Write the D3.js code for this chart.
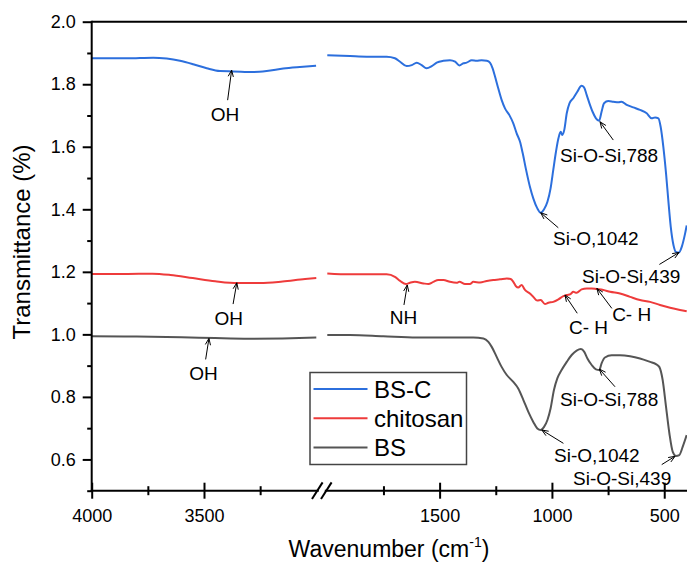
<!DOCTYPE html>
<html>
<head>
<meta charset="utf-8">
<script src="https://cdn.jsdelivr.net/npm/d3@7"></script>
<style>
  html, body { margin: 0; padding: 0; background: #fff; }
  svg { display: block; font-family: Arial, "Liberation Sans", sans-serif; }
</style>
</head>
<body>
<svg id="chart" width="687" height="566"></svg>
<script>
// ---------------- DATA ----------------
const seriesNames = ["BS-C", "chitosan", "BS"];
const seriesColors = ["#2c6fdd", "#ee3b3b", "#555555"];

// wavenumber (cm-1), transmittance — left (4000-3000) and right (2000-400) segments
const bscLeftW = [4000, 3844, 3726, 3666, 3607, 3548, 3488, 3429, 3369, 3280, 3221, 3147, 3073, 3001];
const bscLeftT = [1.883, 1.883, 1.885, 1.882, 1.875, 1.864, 1.851, 1.842, 1.841, 1.839, 1.842, 1.850, 1.855, 1.859];
const bscRightW = [2000, 1899, 1825, 1736, 1699, 1676, 1647, 1624, 1602, 1580, 1558, 1535, 1513, 1483, 1454, 1431, 1412, 1394, 1380, 1357, 1335, 1313, 1290, 1276, 1264, 1253, 1239, 1224, 1209, 1190, 1172, 1157, 1142, 1130, 1115, 1098, 1083, 1065, 1050, 1035, 1020, 1006, 994, 982, 971, 961, 954, 945, 934, 922, 905, 887, 868, 857, 845, 833, 819, 804, 790, 779, 768, 749, 727, 704, 690, 667, 638, 608, 578, 556, 541, 526, 516, 504, 492, 482, 471, 459, 448, 434, 422, 407, 400];
const bscRightT = [1.893, 1.890, 1.888, 1.888, 1.883, 1.872, 1.858, 1.861, 1.869, 1.861, 1.851, 1.858, 1.869, 1.875, 1.877, 1.872, 1.860, 1.867, 1.869, 1.877, 1.875, 1.877, 1.875, 1.869, 1.851, 1.824, 1.787, 1.750, 1.723, 1.702, 1.675, 1.643, 1.616, 1.579, 1.526, 1.472, 1.435, 1.403, 1.389, 1.400, 1.424, 1.467, 1.526, 1.584, 1.627, 1.648, 1.638, 1.654, 1.707, 1.739, 1.755, 1.776, 1.795, 1.790, 1.765, 1.739, 1.712, 1.691, 1.683, 1.712, 1.739, 1.746, 1.744, 1.742, 1.744, 1.734, 1.726, 1.718, 1.707, 1.691, 1.694, 1.691, 1.664, 1.600, 1.515, 1.430, 1.344, 1.286, 1.264, 1.262, 1.280, 1.323, 1.348];

const chiLeftW = [4000, 3850, 3730, 3650, 3550, 3450, 3350, 3250, 3150, 3050, 3000];
const chiLeftT = [1.193, 1.193, 1.194, 1.190, 1.180, 1.170, 1.164, 1.164, 1.169, 1.177, 1.180];
const chiRightW = [2000, 1899, 1825, 1736, 1699, 1676, 1650, 1632, 1610, 1572, 1550, 1528, 1506, 1483, 1454, 1424, 1412, 1387, 1365, 1350, 1320, 1290, 1261, 1231, 1201, 1184, 1172, 1160, 1150, 1135, 1120, 1098, 1083, 1065, 1050, 1031, 1016, 994, 971, 949, 934, 917, 905, 890, 868, 845, 823, 801, 771, 741, 697, 652, 608, 563, 519, 474, 430, 400];
const chiRightT = [1.195, 1.192, 1.192, 1.192, 1.184, 1.171, 1.161, 1.165, 1.168, 1.163, 1.161, 1.168, 1.174, 1.174, 1.168, 1.165, 1.168, 1.161, 1.161, 1.168, 1.166, 1.171, 1.174, 1.176, 1.179, 1.177, 1.168, 1.154, 1.150, 1.158, 1.142, 1.131, 1.120, 1.108, 1.110, 1.097, 1.101, 1.104, 1.112, 1.122, 1.126, 1.129, 1.136, 1.133, 1.144, 1.147, 1.147, 1.145, 1.142, 1.136, 1.131, 1.120, 1.110, 1.104, 1.094, 1.085, 1.078, 1.074];

const bsLeftW = [4000, 3800, 3600, 3450, 3300, 3150, 3000];
const bsLeftT = [0.994, 0.993, 0.991, 0.988, 0.986, 0.987, 0.990];
const bsRightW = [2000, 1899, 1751, 1602, 1454, 1350, 1305, 1283, 1268, 1246, 1224, 1201, 1172, 1150, 1127, 1105, 1083, 1065, 1050, 1035, 1020, 1006, 991, 976, 957, 934, 912, 890, 871, 856, 842, 823, 804, 789, 779, 764, 734, 697, 652, 608, 563, 537, 522, 507, 492, 477, 462, 448, 433, 418, 400];
const bsRightT = [0.998, 0.998, 0.994, 0.990, 0.990, 0.990, 0.987, 0.976, 0.960, 0.928, 0.896, 0.870, 0.848, 0.827, 0.790, 0.752, 0.720, 0.699, 0.694, 0.704, 0.726, 0.763, 0.822, 0.859, 0.886, 0.912, 0.934, 0.948, 0.953, 0.944, 0.923, 0.902, 0.888, 0.886, 0.907, 0.926, 0.933, 0.933, 0.930, 0.923, 0.912, 0.905, 0.896, 0.854, 0.768, 0.683, 0.624, 0.611, 0.614, 0.640, 0.678];

const yMajorTicks = [0.6, 0.8, 1.0, 1.2, 1.4, 1.6, 1.8, 2.0];
const yMinorTicks = [0.5, 0.7, 0.9, 1.1, 1.3, 1.5, 1.7, 1.9];
const xLeftMajor = [4000, 3500];
const xLeftMinor = [3750, 3250];
const xRightMajor = [1500, 1000, 500];
const xRightMinor = [1750, 1250, 750];

// annotations: label, wavenumber and transmittance of the pointed feature
const annLabels = ["OH", "OH", "OH", "NH", "C- H", "C- H", "Si-O-Si,788", "Si-O,1042", "Si-O-Si,439", "Si-O-Si,788", "Si-O,1042", "Si-O-Si,439"];
const annW = [3377, 3354, 3478, 1644, 942, 800, 786, 1050, 434, 789, 1045, 452];
const annT = [1.845, 1.165, 0.987, 1.158, 1.126, 1.147, 1.680, 1.389, 1.262, 0.889, 0.694, 0.610];

// ---------------- LAYOUT ----------------
// offsets (px) of arrow tail and label from the arrow tip; anchor of label
const annLayout = [
  {tx: -4, ty: 30, lx: -6.7, ly: 51, a: "middle"},
  {tx: -3.7, ty: 21.3, lx: -8, ly: 42.3, a: "middle"},
  {tx: -3.3, ty: 21, lx: -5.5, ly: 41.7, a: "middle"},
  {tx: -3.3, ty: 20, lx: -3.8, ly: 39, a: "middle"},
  {tx: 12.3, ty: 18.3, lx: 4, ly: 39, a: "start"},
  {tx: 15, ty: 20, lx: 15.3, ly: 32.7, a: "start"},
  {tx: 13.3, ty: 18.3, lx: -40, ly: 40.3, a: "start"},
  {tx: 17.6, ty: 15, lx: 12.3, ly: 32.3, a: "start"},
  {tx: -19.7, ty: 12, lx: -97, ly: 30.7, a: "start"},
  {tx: 15.7, ty: 17.7, lx: -39.3, ly: 36.7, a: "start"},
  {tx: 21.6, ty: 13.3, lx: 12.3, ly: 32, a: "start"},
  {tx: -13.3, ty: 8.3, lx: -102, ly: 28.3, a: "start"}
];

const svg = d3.select("#chart");
const yTop = 21.7, yBot = 490.7, xL0 = 91.7;
const xLeft = d3.scaleLinear().domain([4000, 3000]).range([91.7, 316.3]);
const xRight = d3.scaleLinear().domain([2000, 400]).range([327.3, 686.7]);
const y = d3.scaleLinear().domain([0.5, 2.0]).range([yBot, yTop]);
const xAny = w => (w >= 2500 ? xLeft(w) : xRight(w));

// ---------------- DATA LINES ----------------
const lineL = d3.line().x(d => xLeft(d[0])).y(d => y(d[1])).curve(d3.curveMonotoneX);
const lineR = d3.line().x(d => xRight(d[0])).y(d => y(d[1])).curve(d3.curveMonotoneX);
const zip = (a, b) => a.map((v, i) => [v, b[i]]);
const segs = [
  [zip(bscLeftW, bscLeftT), zip(bscRightW, bscRightT)],
  [zip(chiLeftW, chiLeftT), zip(chiRightW, chiRightT)],
  [zip(bsLeftW, bsLeftT), zip(bsRightW, bsRightT)]
];
const gLines = svg.append("g");
segs.forEach((s, i) => {
  gLines.append("path").attr("d", lineL(s[0].slice().sort((a,b)=>a[0]-b[0]))).attr("fill", "none")
    .attr("stroke", seriesColors[i]).attr("stroke-width", 2);
  gLines.append("path").attr("d", lineR(s[1].slice().sort((a,b)=>a[0]-b[0]))).attr("fill", "none")
    .attr("stroke", seriesColors[i]).attr("stroke-width", 2);
});

// ---------------- AXES ----------------
const axisCol = "#000";
svg.append("line").attr("x1", xL0).attr("x2", 687).attr("y1", yTop).attr("y2", yTop)
  .attr("stroke", axisCol).attr("stroke-width", 2);

const yAx = svg.append("g").attr("transform", `translate(${xL0},0)`)
  .call(d3.axisLeft(y).tickValues(yMajorTicks).tickSize(9).tickPadding(7).tickFormat(d3.format(".1f")));
yAx.select(".domain").remove();
yAx.selectAll("line").attr("stroke-width", 2);
yAx.selectAll("text").attr("font-size", 18).attr("font-family", "Arial, 'Liberation Sans', sans-serif").attr("fill", "#000");
svg.append("g").attr("transform", `translate(${xL0},0)`)
  .call(d3.axisLeft(y).tickValues(yMinorTicks).tickSize(4.5).tickFormat(""))
  .call(g => g.select(".domain").remove())
  .selectAll("line").attr("stroke-width", 2);
svg.append("line").attr("x1", xL0).attr("x2", xL0).attr("y1", yTop - 1).attr("y2", yBot + 1)
  .attr("stroke", axisCol).attr("stroke-width", 2);

function xAxisPart(scale, majors, minors) {
  const g = svg.append("g").attr("transform", `translate(0,${yBot})`)
    .call(d3.axisBottom(scale).tickValues(majors).tickSize(8).tickPadding(11).tickFormat(d3.format("d")));
  g.select(".domain").remove();
  g.selectAll("line").attr("y1", -8).attr("stroke-width", 2);
  g.selectAll("text").attr("font-size", 18).attr("font-family", "Arial, 'Liberation Sans', sans-serif").attr("fill", "#000");
  const m = svg.append("g").attr("transform", `translate(0,${yBot})`)
    .call(d3.axisBottom(scale).tickValues(minors).tickSize(4.5).tickFormat(""));
  m.select(".domain").remove();
  m.selectAll("line").attr("y1", -4.5).attr("stroke-width", 2);
}
xAxisPart(xLeft, xLeftMajor, xLeftMinor);
xAxisPart(xRight, xRightMajor, xRightMinor);
svg.append("line").attr("x1", xL0 - 1).attr("x2", 687).attr("y1", yBot).attr("y2", yBot)
  .attr("stroke", axisCol).attr("stroke-width", 2);
const bx = (xLeft.range()[1] + xRight.range()[0]) / 2;
svg.append("rect").attr("x", bx - 3).attr("y", yBot - 2).attr("width", 6).attr("height", 4).attr("fill", "#fff");
[-4.5, 4.5].forEach(dx => {
  svg.append("line").attr("x1", bx + dx - 5.3).attr("y1", yBot + 8.3).attr("x2", bx + dx + 5.3).attr("y2", yBot - 8.3)
    .attr("stroke", axisCol).attr("stroke-width", 2);
});

const xt = svg.append("text").attr("x", 389).attr("y", 557).attr("text-anchor", "middle")
  .attr("font-size", 23).attr("fill", "#000");
xt.append("tspan").text("Wavenumber (cm");
xt.append("tspan").text("-1").attr("font-size", 14).attr("dy", -10);
xt.append("tspan").text(")").attr("dy", 10);
svg.append("text").attr("transform", "translate(30,242) rotate(-90)").attr("text-anchor", "middle")
  .attr("font-size", 24).attr("fill", "#000").text("Transmittance (%)");

// ---------------- LEGEND ----------------
const lg = svg.append("g");
lg.append("rect").attr("x", 310).attr("y", 372.5).attr("width", 156.5).attr("height", 92)
  .attr("fill", "#fff").attr("stroke", "#444").attr("stroke-width", 1.5);
seriesNames.forEach((n, i) => {
  const ly = 389 + i * 29.2;
  lg.append("line").attr("x1", 313.5).attr("x2", 367.5).attr("y1", ly).attr("y2", ly)
    .attr("stroke", seriesColors[i]).attr("stroke-width", 2);
  lg.append("text").attr("x", 374).attr("y", ly + 9).attr("font-size", 24).attr("fill", "#000").text(n);
});

// ---------------- ANNOTATIONS ----------------
const ga = svg.append("g");
annLabels.forEach((lab, i) => {
  const L = annLayout[i];
  const px = xAny(annW[i]), py = y(annT[i]);
  const tx = px + L.tx, ty = py + L.ty;
  ga.append("line").attr("x1", tx).attr("y1", ty).attr("x2", px).attr("y2", py)
    .attr("stroke", "#000").attr("stroke-width", 1);
  const ang = Math.atan2(ty - py, tx - px);
  const hl = 7, ha = 0.38;
  [ang - ha, ang + ha].forEach(a => {
    ga.append("line").attr("x1", px).attr("y1", py)
      .attr("x2", px + hl * Math.cos(a)).attr("y2", py + hl * Math.sin(a))
      .attr("stroke", "#000").attr("stroke-width", 1);
  });
  ga.append("text").attr("x", px + L.lx).attr("y", py + L.ly).attr("text-anchor", L.a)
    .attr("font-size", 19).attr("fill", "#000").text(lab);
});
</script>
</body>
</html>
